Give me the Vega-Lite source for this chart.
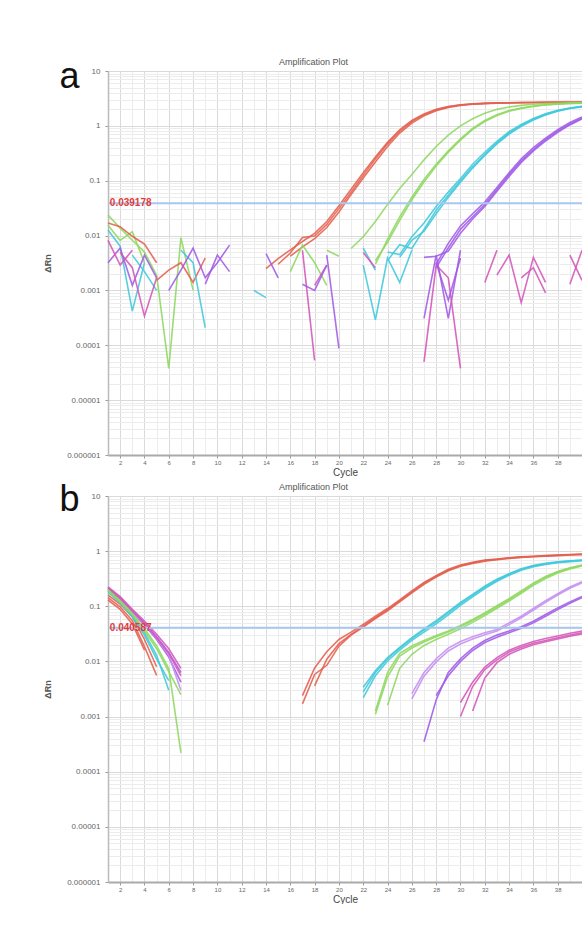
{
"$schema": "https://vega.github.io/schema/vega-lite/v6.json",
"background": "white",
"padding": {"left": 43, "top": 57, "right": 0, "bottom": 0},
"spacing": 4,
"config": {
  "font": "Liberation Sans",
  "view": {"stroke": null},
  "axis": {"labelFont": "Liberation Sans", "titleFont": "Liberation Sans"}
},
"datasets": {
"a": [
{"s":"aR1","g":"red","c":14,"v":0.0025},{"s":"aR1","g":"red","c":15,"v":0.0038},{"s":"aR1","g":"red","c":16,"v":0.0055},{"s":"aR1","g":"red","c":17,"v":0.0078},{"s":"aR1","g":"red","c":18,"v":0.011},{"s":"aR1","g":"red","c":19,"v":0.018},{"s":"aR1","g":"red","c":20,"v":0.035},{"s":"aR1","g":"red","c":21,"v":0.07},{"s":"aR1","g":"red","c":22,"v":0.14},{"s":"aR1","g":"red","c":23,"v":0.27},{"s":"aR1","g":"red","c":24,"v":0.5},{"s":"aR1","g":"red","c":25,"v":0.85},{"s":"aR1","g":"red","c":26,"v":1.25},{"s":"aR1","g":"red","c":27,"v":1.65},{"s":"aR1","g":"red","c":28,"v":2.0},{"s":"aR1","g":"red","c":29,"v":2.25},{"s":"aR1","g":"red","c":30,"v":2.42},{"s":"aR1","g":"red","c":31,"v":2.52},{"s":"aR1","g":"red","c":32,"v":2.58},{"s":"aR1","g":"red","c":33,"v":2.62},{"s":"aR1","g":"red","c":34,"v":2.64},{"s":"aR1","g":"red","c":35,"v":2.66},{"s":"aR1","g":"red","c":36,"v":2.67},{"s":"aR1","g":"red","c":37,"v":2.68},{"s":"aR1","g":"red","c":38,"v":2.69},{"s":"aR1","g":"red","c":39,"v":2.7},{"s":"aR1","g":"red","c":40,"v":2.7},
{"s":"aR2","g":"red","c":15,"v":0.003},{"s":"aR2","g":"red","c":16,"v":0.0048},{"s":"aR2","g":"red","c":17,"v":0.0092},{"s":"aR2","g":"red","c":18,"v":0.0098},{"s":"aR2","g":"red","c":19,"v":0.016},{"s":"aR2","g":"red","c":20,"v":0.031},{"s":"aR2","g":"red","c":21,"v":0.062},{"s":"aR2","g":"red","c":22,"v":0.125},{"s":"aR2","g":"red","c":23,"v":0.25},{"s":"aR2","g":"red","c":24,"v":0.47},{"s":"aR2","g":"red","c":25,"v":0.8},{"s":"aR2","g":"red","c":26,"v":1.2},{"s":"aR2","g":"red","c":27,"v":1.6},{"s":"aR2","g":"red","c":28,"v":1.95},{"s":"aR2","g":"red","c":29,"v":2.22},{"s":"aR2","g":"red","c":30,"v":2.4},{"s":"aR2","g":"red","c":31,"v":2.5},{"s":"aR2","g":"red","c":32,"v":2.57},{"s":"aR2","g":"red","c":33,"v":2.61},{"s":"aR2","g":"red","c":34,"v":2.64},{"s":"aR2","g":"red","c":35,"v":2.66},{"s":"aR2","g":"red","c":36,"v":2.67},{"s":"aR2","g":"red","c":37,"v":2.68},{"s":"aR2","g":"red","c":38,"v":2.69},{"s":"aR2","g":"red","c":39,"v":2.7},{"s":"aR2","g":"red","c":40,"v":2.71},
{"s":"aR3","g":"red","c":16,"v":0.0042},{"s":"aR3","g":"red","c":17,"v":0.0062},{"s":"aR3","g":"red","c":18,"v":0.0088},{"s":"aR3","g":"red","c":19,"v":0.014},{"s":"aR3","g":"red","c":20,"v":0.027},{"s":"aR3","g":"red","c":21,"v":0.056},{"s":"aR3","g":"red","c":22,"v":0.112},{"s":"aR3","g":"red","c":23,"v":0.22},{"s":"aR3","g":"red","c":24,"v":0.42},{"s":"aR3","g":"red","c":25,"v":0.74},{"s":"aR3","g":"red","c":26,"v":1.12},{"s":"aR3","g":"red","c":27,"v":1.52},{"s":"aR3","g":"red","c":28,"v":1.88},{"s":"aR3","g":"red","c":29,"v":2.16},{"s":"aR3","g":"red","c":30,"v":2.35},{"s":"aR3","g":"red","c":31,"v":2.47},{"s":"aR3","g":"red","c":32,"v":2.54},{"s":"aR3","g":"red","c":33,"v":2.59},{"s":"aR3","g":"red","c":34,"v":2.62},{"s":"aR3","g":"red","c":35,"v":2.64},{"s":"aR3","g":"red","c":36,"v":2.66},{"s":"aR3","g":"red","c":37,"v":2.67},{"s":"aR3","g":"red","c":38,"v":2.68},{"s":"aR3","g":"red","c":39,"v":2.69},{"s":"aR3","g":"red","c":40,"v":2.7},
{"s":"aG1","g":"green","c":21,"v":0.0058},{"s":"aG1","g":"green","c":22,"v":0.0095},{"s":"aG1","g":"green","c":23,"v":0.018},{"s":"aG1","g":"green","c":24,"v":0.037},{"s":"aG1","g":"green","c":25,"v":0.072},{"s":"aG1","g":"green","c":26,"v":0.13},{"s":"aG1","g":"green","c":27,"v":0.24},{"s":"aG1","g":"green","c":28,"v":0.42},{"s":"aG1","g":"green","c":29,"v":0.68},{"s":"aG1","g":"green","c":30,"v":1.0},{"s":"aG1","g":"green","c":31,"v":1.35},{"s":"aG1","g":"green","c":32,"v":1.7},{"s":"aG1","g":"green","c":33,"v":2.0},{"s":"aG1","g":"green","c":34,"v":2.2},{"s":"aG1","g":"green","c":35,"v":2.36},{"s":"aG1","g":"green","c":36,"v":2.47},{"s":"aG1","g":"green","c":37,"v":2.54},{"s":"aG1","g":"green","c":38,"v":2.59},{"s":"aG1","g":"green","c":39,"v":2.62},{"s":"aG1","g":"green","c":40,"v":2.65},
{"s":"aG2","g":"green","c":23,"v":0.003},{"s":"aG2","g":"green","c":24,"v":0.0085},{"s":"aG2","g":"green","c":25,"v":0.022},{"s":"aG2","g":"green","c":26,"v":0.05},{"s":"aG2","g":"green","c":27,"v":0.105},{"s":"aG2","g":"green","c":28,"v":0.2},{"s":"aG2","g":"green","c":29,"v":0.35},{"s":"aG2","g":"green","c":30,"v":0.58},{"s":"aG2","g":"green","c":31,"v":0.9},{"s":"aG2","g":"green","c":32,"v":1.25},{"s":"aG2","g":"green","c":33,"v":1.6},{"s":"aG2","g":"green","c":34,"v":1.9},{"s":"aG2","g":"green","c":35,"v":2.12},{"s":"aG2","g":"green","c":36,"v":2.3},{"s":"aG2","g":"green","c":37,"v":2.42},{"s":"aG2","g":"green","c":38,"v":2.5},{"s":"aG2","g":"green","c":39,"v":2.56},{"s":"aG2","g":"green","c":40,"v":2.6},
{"s":"aG3","g":"green","c":23,"v":0.0035},{"s":"aG3","g":"green","c":24,"v":0.0075},{"s":"aG3","g":"green","c":25,"v":0.019},{"s":"aG3","g":"green","c":26,"v":0.045},{"s":"aG3","g":"green","c":27,"v":0.095},{"s":"aG3","g":"green","c":28,"v":0.185},{"s":"aG3","g":"green","c":29,"v":0.33},{"s":"aG3","g":"green","c":30,"v":0.55},{"s":"aG3","g":"green","c":31,"v":0.86},{"s":"aG3","g":"green","c":32,"v":1.2},{"s":"aG3","g":"green","c":33,"v":1.55},{"s":"aG3","g":"green","c":34,"v":1.85},{"s":"aG3","g":"green","c":35,"v":2.08},{"s":"aG3","g":"green","c":36,"v":2.26},{"s":"aG3","g":"green","c":37,"v":2.4},{"s":"aG3","g":"green","c":38,"v":2.48},{"s":"aG3","g":"green","c":39,"v":2.55},{"s":"aG3","g":"green","c":40,"v":2.6},
{"s":"aC1","g":"cyan","c":24,"v":0.005},{"s":"aC1","g":"cyan","c":25,"v":0.0045},{"s":"aC1","g":"cyan","c":26,"v":0.0095},{"s":"aC1","g":"cyan","c":27,"v":0.017},{"s":"aC1","g":"cyan","c":28,"v":0.034},{"s":"aC1","g":"cyan","c":29,"v":0.062},{"s":"aC1","g":"cyan","c":30,"v":0.11},{"s":"aC1","g":"cyan","c":31,"v":0.2},{"s":"aC1","g":"cyan","c":32,"v":0.33},{"s":"aC1","g":"cyan","c":33,"v":0.52},{"s":"aC1","g":"cyan","c":34,"v":0.78},{"s":"aC1","g":"cyan","c":35,"v":1.06},{"s":"aC1","g":"cyan","c":36,"v":1.36},{"s":"aC1","g":"cyan","c":37,"v":1.66},{"s":"aC1","g":"cyan","c":38,"v":1.92},{"s":"aC1","g":"cyan","c":39,"v":2.12},{"s":"aC1","g":"cyan","c":40,"v":2.28},
{"s":"aC2","g":"cyan","c":24,"v":0.0035},{"s":"aC2","g":"cyan","c":25,"v":0.0068},{"s":"aC2","g":"cyan","c":26,"v":0.0058},{"s":"aC2","g":"cyan","c":27,"v":0.013},{"s":"aC2","g":"cyan","c":28,"v":0.029},{"s":"aC2","g":"cyan","c":29,"v":0.055},{"s":"aC2","g":"cyan","c":30,"v":0.1},{"s":"aC2","g":"cyan","c":31,"v":0.18},{"s":"aC2","g":"cyan","c":32,"v":0.3},{"s":"aC2","g":"cyan","c":33,"v":0.49},{"s":"aC2","g":"cyan","c":34,"v":0.74},{"s":"aC2","g":"cyan","c":35,"v":1.02},{"s":"aC2","g":"cyan","c":36,"v":1.32},{"s":"aC2","g":"cyan","c":37,"v":1.62},{"s":"aC2","g":"cyan","c":38,"v":1.88},{"s":"aC2","g":"cyan","c":39,"v":2.1},{"s":"aC2","g":"cyan","c":40,"v":2.25},
{"s":"aC3","g":"cyan","c":25,"v":0.004},{"s":"aC3","g":"cyan","c":26,"v":0.0082},{"s":"aC3","g":"cyan","c":27,"v":0.012},{"s":"aC3","g":"cyan","c":28,"v":0.025},{"s":"aC3","g":"cyan","c":29,"v":0.05},{"s":"aC3","g":"cyan","c":30,"v":0.094},{"s":"aC3","g":"cyan","c":31,"v":0.17},{"s":"aC3","g":"cyan","c":32,"v":0.29},{"s":"aC3","g":"cyan","c":33,"v":0.47},{"s":"aC3","g":"cyan","c":34,"v":0.71},{"s":"aC3","g":"cyan","c":35,"v":0.98},{"s":"aC3","g":"cyan","c":36,"v":1.28},{"s":"aC3","g":"cyan","c":37,"v":1.58},{"s":"aC3","g":"cyan","c":38,"v":1.85},{"s":"aC3","g":"cyan","c":39,"v":2.07},{"s":"aC3","g":"cyan","c":40,"v":2.22},
{"s":"aP1","g":"purple","c":28,"v":0.003},{"s":"aP1","g":"purple","c":29,"v":0.0072},{"s":"aP1","g":"purple","c":30,"v":0.015},{"s":"aP1","g":"purple","c":31,"v":0.025},{"s":"aP1","g":"purple","c":32,"v":0.041},{"s":"aP1","g":"purple","c":33,"v":0.075},{"s":"aP1","g":"purple","c":34,"v":0.14},{"s":"aP1","g":"purple","c":35,"v":0.25},{"s":"aP1","g":"purple","c":36,"v":0.4},{"s":"aP1","g":"purple","c":37,"v":0.6},{"s":"aP1","g":"purple","c":38,"v":0.85},{"s":"aP1","g":"purple","c":39,"v":1.15},{"s":"aP1","g":"purple","c":40,"v":1.45},
{"s":"aP2","g":"purple","c":28,"v":0.0026},{"s":"aP2","g":"purple","c":29,"v":0.006},{"s":"aP2","g":"purple","c":30,"v":0.013},{"s":"aP2","g":"purple","c":31,"v":0.022},{"s":"aP2","g":"purple","c":32,"v":0.037},{"s":"aP2","g":"purple","c":33,"v":0.069},{"s":"aP2","g":"purple","c":34,"v":0.13},{"s":"aP2","g":"purple","c":35,"v":0.23},{"s":"aP2","g":"purple","c":36,"v":0.37},{"s":"aP2","g":"purple","c":37,"v":0.56},{"s":"aP2","g":"purple","c":38,"v":0.8},{"s":"aP2","g":"purple","c":39,"v":1.08},{"s":"aP2","g":"purple","c":40,"v":1.38},
{"s":"aP3","g":"purple","c":27,"v":0.004},{"s":"aP3","g":"purple","c":28,"v":0.0042},{"s":"aP3","g":"purple","c":29,"v":0.0052},{"s":"aP3","g":"purple","c":30,"v":0.011},{"s":"aP3","g":"purple","c":31,"v":0.02},{"s":"aP3","g":"purple","c":32,"v":0.034},{"s":"aP3","g":"purple","c":33,"v":0.064},{"s":"aP3","g":"purple","c":34,"v":0.12},{"s":"aP3","g":"purple","c":35,"v":0.215},{"s":"aP3","g":"purple","c":36,"v":0.35},{"s":"aP3","g":"purple","c":37,"v":0.53},{"s":"aP3","g":"purple","c":38,"v":0.76},{"s":"aP3","g":"purple","c":39,"v":1.04},{"s":"aP3","g":"purple","c":40,"v":1.34},
{"s":"aN1","g":"green","c":1,"v":0.0236},{"s":"aN1","g":"green","c":2,"v":0.0137},{"s":"aN1","g":"green","c":3,"v":0.0082},{"s":"aN1","g":"green","c":4,"v":0.005},{"s":"aN1","g":"green","c":5,"v":0.0019},{"s":"aN1","g":"green","c":6,"v":0.000038},{"s":"aN1","g":"green","c":7,"v":0.0092},{"s":"aN1","g":"green","c":8,"v":0.00101},
{"s":"aN2","g":"green","c":1,"v":0.0155},{"s":"aN2","g":"green","c":2,"v":0.0082},{"s":"aN2","g":"green","c":3,"v":0.0118},{"s":"aN2","g":"green","c":4,"v":0.0032},
{"s":"aN3","g":"red","c":1,"v":0.017},{"s":"aN3","g":"red","c":2,"v":0.0145},{"s":"aN3","g":"red","c":3,"v":0.0097},{"s":"aN3","g":"red","c":4,"v":0.007},{"s":"aN3","g":"red","c":5,"v":0.0032},
{"s":"aN4","g":"red","c":5,"v":0.00153},{"s":"aN4","g":"red","c":6,"v":0.00234},{"s":"aN4","g":"red","c":7,"v":0.0032},{"s":"aN4","g":"red","c":8,"v":0.0014},{"s":"aN4","g":"red","c":9,"v":0.0039},
{"s":"aN6","g":"cyan","c":1,"v":0.0126},{"s":"aN6","g":"cyan","c":2,"v":0.0064},{"s":"aN6","g":"cyan","c":3,"v":0.00042},{"s":"aN6","g":"cyan","c":4,"v":0.0032},
{"s":"aN7","g":"cyan","c":3,"v":0.0044},{"s":"aN7","g":"cyan","c":4,"v":0.0022},{"s":"aN7","g":"cyan","c":5,"v":0.001},
{"s":"aN8","g":"cyan","c":7,"v":0.0054},{"s":"aN8","g":"cyan","c":8,"v":0.0032},{"s":"aN8","g":"cyan","c":9,"v":0.00021},
{"s":"aN9","g":"purple","c":1,"v":0.0032},{"s":"aN9","g":"purple","c":2,"v":0.0059},{"s":"aN9","g":"purple","c":3,"v":0.00124},{"s":"aN9","g":"purple","c":4,"v":0.0044},{"s":"aN9","g":"purple","c":5,"v":0.0017},
{"s":"aN10","g":"purple","c":6,"v":0.001},{"s":"aN10","g":"purple","c":7,"v":0.00234},{"s":"aN10","g":"purple","c":8,"v":0.0059},{"s":"aN10","g":"purple","c":9,"v":0.0017},{"s":"aN10","g":"purple","c":10,"v":0.0032},{"s":"aN10","g":"purple","c":11,"v":0.0067},
{"s":"aN11","g":"magenta","c":2,"v":0.0049},{"s":"aN11","g":"magenta","c":3,"v":0.0026},{"s":"aN11","g":"magenta","c":4,"v":0.00034},{"s":"aN11","g":"magenta","c":5,"v":0.0017},
{"s":"aN12","g":"magenta","c":1,"v":0.0082},{"s":"aN12","g":"magenta","c":2,"v":0.0029},{"s":"aN12","g":"magenta","c":3,"v":0.0054},
{"s":"aN13","g":"purple","c":9,"v":0.0013},{"s":"aN13","g":"purple","c":10,"v":0.0044},{"s":"aN13","g":"purple","c":11,"v":0.0022},
{"s":"aN15","g":"cyan","c":13,"v":0.001},{"s":"aN15","g":"cyan","c":14,"v":0.00074},
{"s":"aN16","g":"purple","c":14,"v":0.0047},{"s":"aN16","g":"purple","c":15,"v":0.0017},
{"s":"aN18","g":"green","c":16,"v":0.0022},{"s":"aN18","g":"green","c":17,"v":0.0067},{"s":"aN18","g":"green","c":18,"v":0.0032},{"s":"aN18","g":"green","c":19,"v":0.00124},
{"s":"aN19","g":"magenta","c":17,"v":0.0054},{"s":"aN19","g":"magenta","c":18,"v":0.000053},
{"s":"aN19b","g":"magenta","c":18,"v":0.00124},{"s":"aN19b","g":"magenta","c":19,"v":0.0029},
{"s":"aN20","g":"purple","c":17,"v":0.0013},{"s":"aN20","g":"purple","c":18,"v":0.001},{"s":"aN20","g":"purple","c":19,"v":0.0029},
{"s":"aN21","g":"purple","c":19,"v":0.0044},{"s":"aN21","g":"purple","c":20,"v":0.000088},
{"s":"aN22","g":"green","c":19,"v":0.0054},{"s":"aN22","g":"green","c":20,"v":0.0042},
{"s":"aN24","g":"cyan","c":22,"v":0.0029},{"s":"aN24","g":"cyan","c":23,"v":0.00029},{"s":"aN24","g":"cyan","c":24,"v":0.0039},{"s":"aN24","g":"cyan","c":25,"v":0.0014},{"s":"aN24","g":"cyan","c":26,"v":0.0054},
{"s":"aN25","g":"cyan","c":22,"v":0.0059},{"s":"aN25","g":"cyan","c":23,"v":0.00234},
{"s":"aN26","g":"magenta","c":22,"v":0.0049},{"s":"aN26","g":"magenta","c":23,"v":0.0026},
{"s":"aN28","g":"purple","c":27,"v":0.00031},{"s":"aN28","g":"purple","c":28,"v":0.0044},{"s":"aN28","g":"purple","c":29,"v":0.00031},{"s":"aN28","g":"purple","c":30,"v":0.0054},
{"s":"aN29","g":"magenta","c":27,"v":0.00005},{"s":"aN29","g":"magenta","c":28,"v":0.0029},{"s":"aN29","g":"magenta","c":29,"v":0.0017},{"s":"aN29","g":"magenta","c":30,"v":0.000038},
{"s":"aN30","g":"purple","c":28,"v":0.0032},{"s":"aN30","g":"purple","c":29,"v":0.00066},{"s":"aN30","g":"purple","c":30,"v":0.0039},
{"s":"aN31","g":"magenta","c":32,"v":0.0014},{"s":"aN31","g":"magenta","c":33,"v":0.0054},
{"s":"aN32","g":"magenta","c":33,"v":0.0019},{"s":"aN32","g":"magenta","c":34,"v":0.0044},{"s":"aN32","g":"magenta","c":35,"v":0.0006},{"s":"aN32","g":"magenta","c":36,"v":0.004},{"s":"aN32","g":"magenta","c":37,"v":0.0014},
{"s":"aN33","g":"magenta","c":35,"v":0.0017},{"s":"aN33","g":"magenta","c":36,"v":0.0026},{"s":"aN33","g":"magenta","c":37,"v":0.0009},
{"s":"aN34","g":"magenta","c":39,"v":0.0013},{"s":"aN34","g":"magenta","c":40,"v":0.0054},
{"s":"aN35","g":"magenta","c":39,"v":0.0044},{"s":"aN35","g":"magenta","c":40,"v":0.00153}
],
"b": [
{"s":"bR0a","g":"red","c":1,"v":0.143},{"s":"bR0a","g":"red","c":2,"v":0.098},{"s":"bR0a","g":"red","c":3,"v":0.055},{"s":"bR0a","g":"red","c":4,"v":0.0185},{"s":"bR0a","g":"red","c":5,"v":0.0056},
{"s":"bR0b","g":"red","c":1,"v":0.16},{"s":"bR0b","g":"red","c":2,"v":0.11},{"s":"bR0b","g":"red","c":3,"v":0.065},{"s":"bR0b","g":"red","c":4,"v":0.025},{"s":"bR0b","g":"red","c":5,"v":0.008},
{"s":"bR0c","g":"red","c":1,"v":0.13},{"s":"bR0c","g":"red","c":2,"v":0.088},{"s":"bR0c","g":"red","c":3,"v":0.048},{"s":"bR0c","g":"red","c":4,"v":0.016},
{"s":"bP0a","g":"purple","c":1,"v":0.217},{"s":"bP0a","g":"purple","c":2,"v":0.143},{"s":"bP0a","g":"purple","c":3,"v":0.083},{"s":"bP0a","g":"purple","c":4,"v":0.05},{"s":"bP0a","g":"purple","c":5,"v":0.028},{"s":"bP0a","g":"purple","c":6,"v":0.0146},{"s":"bP0a","g":"purple","c":7,"v":0.0063},
{"s":"bP0b","g":"purple","c":1,"v":0.2},{"s":"bP0b","g":"purple","c":2,"v":0.135},{"s":"bP0b","g":"purple","c":3,"v":0.078},{"s":"bP0b","g":"purple","c":4,"v":0.046},{"s":"bP0b","g":"purple","c":5,"v":0.025},{"s":"bP0b","g":"purple","c":6,"v":0.012},{"s":"bP0b","g":"purple","c":7,"v":0.0042},
{"s":"bV0a","g":"violet","c":1,"v":0.205},{"s":"bV0a","g":"violet","c":2,"v":0.138},{"s":"bV0a","g":"violet","c":3,"v":0.08},{"s":"bV0a","g":"violet","c":4,"v":0.047},{"s":"bV0a","g":"violet","c":5,"v":0.026},{"s":"bV0a","g":"violet","c":6,"v":0.013},{"s":"bV0a","g":"violet","c":7,"v":0.003},
{"s":"bM0a","g":"magenta","c":1,"v":0.225},{"s":"bM0a","g":"magenta","c":2,"v":0.15},{"s":"bM0a","g":"magenta","c":3,"v":0.088},{"s":"bM0a","g":"magenta","c":4,"v":0.054},{"s":"bM0a","g":"magenta","c":5,"v":0.031},{"s":"bM0a","g":"magenta","c":6,"v":0.017},{"s":"bM0a","g":"magenta","c":7,"v":0.0075},
{"s":"bM0b","g":"magenta","c":1,"v":0.21},{"s":"bM0b","g":"magenta","c":2,"v":0.14},{"s":"bM0b","g":"magenta","c":3,"v":0.082},{"s":"bM0b","g":"magenta","c":4,"v":0.049},{"s":"bM0b","g":"magenta","c":5,"v":0.027},{"s":"bM0b","g":"magenta","c":6,"v":0.014},{"s":"bM0b","g":"magenta","c":7,"v":0.0055},
{"s":"bC0a","g":"cyan","c":1,"v":0.19},{"s":"bC0a","g":"cyan","c":2,"v":0.121},{"s":"bC0a","g":"cyan","c":3,"v":0.068},{"s":"bC0a","g":"cyan","c":4,"v":0.033},{"s":"bC0a","g":"cyan","c":5,"v":0.0129},{"s":"bC0a","g":"cyan","c":6,"v":0.003},
{"s":"bC0b","g":"cyan","c":1,"v":0.18},{"s":"bC0b","g":"cyan","c":2,"v":0.115},{"s":"bC0b","g":"cyan","c":3,"v":0.064},{"s":"bC0b","g":"cyan","c":4,"v":0.03},{"s":"bC0b","g":"cyan","c":5,"v":0.011},{"s":"bC0b","g":"cyan","c":6,"v":0.0045},
{"s":"bG0a","g":"green","c":1,"v":0.2},{"s":"bG0a","g":"green","c":2,"v":0.126},{"s":"bG0a","g":"green","c":3,"v":0.074},{"s":"bG0a","g":"green","c":4,"v":0.039},{"s":"bG0a","g":"green","c":5,"v":0.0193},{"s":"bG0a","g":"green","c":6,"v":0.0074},{"s":"bG0a","g":"green","c":7,"v":0.00022},
{"s":"bG0b","g":"green","c":1,"v":0.19},{"s":"bG0b","g":"green","c":2,"v":0.12},{"s":"bG0b","g":"green","c":3,"v":0.07},{"s":"bG0b","g":"green","c":4,"v":0.036},{"s":"bG0b","g":"green","c":5,"v":0.017},{"s":"bG0b","g":"green","c":6,"v":0.0065},{"s":"bG0b","g":"green","c":7,"v":0.0025},
{"s":"bR1","g":"red","c":17,"v":0.0024},{"s":"bR1","g":"red","c":18,"v":0.0076},{"s":"bR1","g":"red","c":19,"v":0.015},{"s":"bR1","g":"red","c":20,"v":0.025},{"s":"bR1","g":"red","c":21,"v":0.034},{"s":"bR1","g":"red","c":22,"v":0.047},{"s":"bR1","g":"red","c":23,"v":0.066},{"s":"bR1","g":"red","c":24,"v":0.091},{"s":"bR1","g":"red","c":25,"v":0.13},{"s":"bR1","g":"red","c":26,"v":0.19},{"s":"bR1","g":"red","c":27,"v":0.27},{"s":"bR1","g":"red","c":28,"v":0.36},{"s":"bR1","g":"red","c":29,"v":0.47},{"s":"bR1","g":"red","c":30,"v":0.56},{"s":"bR1","g":"red","c":31,"v":0.63},{"s":"bR1","g":"red","c":32,"v":0.69},{"s":"bR1","g":"red","c":33,"v":0.72},{"s":"bR1","g":"red","c":34,"v":0.76},{"s":"bR1","g":"red","c":35,"v":0.79},{"s":"bR1","g":"red","c":36,"v":0.81},{"s":"bR1","g":"red","c":37,"v":0.83},{"s":"bR1","g":"red","c":38,"v":0.85},{"s":"bR1","g":"red","c":39,"v":0.87},{"s":"bR1","g":"red","c":40,"v":0.89},
{"s":"bR2","g":"red","c":17,"v":0.0017},{"s":"bR2","g":"red","c":18,"v":0.0058},{"s":"bR2","g":"red","c":19,"v":0.0085},{"s":"bR2","g":"red","c":20,"v":0.019},{"s":"bR2","g":"red","c":21,"v":0.03},{"s":"bR2","g":"red","c":22,"v":0.042},{"s":"bR2","g":"red","c":23,"v":0.06},{"s":"bR2","g":"red","c":24,"v":0.083},{"s":"bR2","g":"red","c":25,"v":0.12},{"s":"bR2","g":"red","c":26,"v":0.175},{"s":"bR2","g":"red","c":27,"v":0.25},{"s":"bR2","g":"red","c":28,"v":0.34},{"s":"bR2","g":"red","c":29,"v":0.44},{"s":"bR2","g":"red","c":30,"v":0.53},{"s":"bR2","g":"red","c":31,"v":0.6},{"s":"bR2","g":"red","c":32,"v":0.66},{"s":"bR2","g":"red","c":33,"v":0.7},{"s":"bR2","g":"red","c":34,"v":0.74},{"s":"bR2","g":"red","c":35,"v":0.77},{"s":"bR2","g":"red","c":36,"v":0.79},{"s":"bR2","g":"red","c":37,"v":0.81},{"s":"bR2","g":"red","c":38,"v":0.83},{"s":"bR2","g":"red","c":39,"v":0.85},{"s":"bR2","g":"red","c":40,"v":0.86},
{"s":"bR3","g":"red","c":18,"v":0.0036},{"s":"bR3","g":"red","c":19,"v":0.011},{"s":"bR3","g":"red","c":20,"v":0.021},{"s":"bR3","g":"red","c":21,"v":0.031},{"s":"bR3","g":"red","c":22,"v":0.044},{"s":"bR3","g":"red","c":23,"v":0.062},{"s":"bR3","g":"red","c":24,"v":0.087},{"s":"bR3","g":"red","c":25,"v":0.125},{"s":"bR3","g":"red","c":26,"v":0.18},{"s":"bR3","g":"red","c":27,"v":0.26},{"s":"bR3","g":"red","c":28,"v":0.35},{"s":"bR3","g":"red","c":29,"v":0.45},{"s":"bR3","g":"red","c":30,"v":0.545},{"s":"bR3","g":"red","c":31,"v":0.615},{"s":"bR3","g":"red","c":32,"v":0.675},{"s":"bR3","g":"red","c":33,"v":0.71},{"s":"bR3","g":"red","c":34,"v":0.75},{"s":"bR3","g":"red","c":35,"v":0.78},{"s":"bR3","g":"red","c":36,"v":0.8},{"s":"bR3","g":"red","c":37,"v":0.82},{"s":"bR3","g":"red","c":38,"v":0.84},{"s":"bR3","g":"red","c":39,"v":0.86},{"s":"bR3","g":"red","c":40,"v":0.88},
{"s":"bC1","g":"cyan","c":22,"v":0.0028},{"s":"bC1","g":"cyan","c":23,"v":0.0063},{"s":"bC1","g":"cyan","c":24,"v":0.0112},{"s":"bC1","g":"cyan","c":25,"v":0.0174},{"s":"bC1","g":"cyan","c":26,"v":0.026},{"s":"bC1","g":"cyan","c":27,"v":0.037},{"s":"bC1","g":"cyan","c":28,"v":0.052},{"s":"bC1","g":"cyan","c":29,"v":0.076},{"s":"bC1","g":"cyan","c":30,"v":0.112},{"s":"bC1","g":"cyan","c":31,"v":0.158},{"s":"bC1","g":"cyan","c":32,"v":0.224},{"s":"bC1","g":"cyan","c":33,"v":0.3},{"s":"bC1","g":"cyan","c":34,"v":0.38},{"s":"bC1","g":"cyan","c":35,"v":0.47},{"s":"bC1","g":"cyan","c":36,"v":0.54},{"s":"bC1","g":"cyan","c":37,"v":0.59},{"s":"bC1","g":"cyan","c":38,"v":0.63},{"s":"bC1","g":"cyan","c":39,"v":0.66},{"s":"bC1","g":"cyan","c":40,"v":0.68},
{"s":"bC2","g":"cyan","c":22,"v":0.0022},{"s":"bC2","g":"cyan","c":23,"v":0.0055},{"s":"bC2","g":"cyan","c":24,"v":0.0102},{"s":"bC2","g":"cyan","c":25,"v":0.016},{"s":"bC2","g":"cyan","c":26,"v":0.024},{"s":"bC2","g":"cyan","c":27,"v":0.034},{"s":"bC2","g":"cyan","c":28,"v":0.048},{"s":"bC2","g":"cyan","c":29,"v":0.07},{"s":"bC2","g":"cyan","c":30,"v":0.104},{"s":"bC2","g":"cyan","c":31,"v":0.148},{"s":"bC2","g":"cyan","c":32,"v":0.21},{"s":"bC2","g":"cyan","c":33,"v":0.285},{"s":"bC2","g":"cyan","c":34,"v":0.365},{"s":"bC2","g":"cyan","c":35,"v":0.45},{"s":"bC2","g":"cyan","c":36,"v":0.52},{"s":"bC2","g":"cyan","c":37,"v":0.575},{"s":"bC2","g":"cyan","c":38,"v":0.615},{"s":"bC2","g":"cyan","c":39,"v":0.645},{"s":"bC2","g":"cyan","c":40,"v":0.67},
{"s":"bC3","g":"cyan","c":22,"v":0.0034},{"s":"bC3","g":"cyan","c":23,"v":0.0068},{"s":"bC3","g":"cyan","c":24,"v":0.0118},{"s":"bC3","g":"cyan","c":25,"v":0.018},{"s":"bC3","g":"cyan","c":26,"v":0.027},{"s":"bC3","g":"cyan","c":27,"v":0.039},{"s":"bC3","g":"cyan","c":28,"v":0.055},{"s":"bC3","g":"cyan","c":29,"v":0.08},{"s":"bC3","g":"cyan","c":30,"v":0.117},{"s":"bC3","g":"cyan","c":31,"v":0.165},{"s":"bC3","g":"cyan","c":32,"v":0.232},{"s":"bC3","g":"cyan","c":33,"v":0.31},{"s":"bC3","g":"cyan","c":34,"v":0.39},{"s":"bC3","g":"cyan","c":35,"v":0.48},{"s":"bC3","g":"cyan","c":36,"v":0.55},{"s":"bC3","g":"cyan","c":37,"v":0.6},{"s":"bC3","g":"cyan","c":38,"v":0.64},{"s":"bC3","g":"cyan","c":39,"v":0.67},{"s":"bC3","g":"cyan","c":40,"v":0.69},
{"s":"bG1","g":"green","c":23,"v":0.00126},{"s":"bG1","g":"green","c":24,"v":0.0063},{"s":"bG1","g":"green","c":25,"v":0.014},{"s":"bG1","g":"green","c":26,"v":0.019},{"s":"bG1","g":"green","c":27,"v":0.024},{"s":"bG1","g":"green","c":28,"v":0.0295},{"s":"bG1","g":"green","c":29,"v":0.0355},{"s":"bG1","g":"green","c":30,"v":0.0447},{"s":"bG1","g":"green","c":31,"v":0.0575},{"s":"bG1","g":"green","c":32,"v":0.076},{"s":"bG1","g":"green","c":33,"v":0.102},{"s":"bG1","g":"green","c":34,"v":0.138},{"s":"bG1","g":"green","c":35,"v":0.19},{"s":"bG1","g":"green","c":36,"v":0.263},{"s":"bG1","g":"green","c":37,"v":0.347},{"s":"bG1","g":"green","c":38,"v":0.427},{"s":"bG1","g":"green","c":39,"v":0.5},{"s":"bG1","g":"green","c":40,"v":0.56},
{"s":"bG2","g":"green","c":24,"v":0.0016},{"s":"bG2","g":"green","c":25,"v":0.0075},{"s":"bG2","g":"green","c":26,"v":0.0135},{"s":"bG2","g":"green","c":27,"v":0.0195},{"s":"bG2","g":"green","c":28,"v":0.025},{"s":"bG2","g":"green","c":29,"v":0.031},{"s":"bG2","g":"green","c":30,"v":0.039},{"s":"bG2","g":"green","c":31,"v":0.051},{"s":"bG2","g":"green","c":32,"v":0.068},{"s":"bG2","g":"green","c":33,"v":0.092},{"s":"bG2","g":"green","c":34,"v":0.125},{"s":"bG2","g":"green","c":35,"v":0.172},{"s":"bG2","g":"green","c":36,"v":0.24},{"s":"bG2","g":"green","c":37,"v":0.32},{"s":"bG2","g":"green","c":38,"v":0.4},{"s":"bG2","g":"green","c":39,"v":0.475},{"s":"bG2","g":"green","c":40,"v":0.54},
{"s":"bG3","g":"green","c":23,"v":0.0011},{"s":"bG3","g":"green","c":24,"v":0.0052},{"s":"bG3","g":"green","c":25,"v":0.0125},{"s":"bG3","g":"green","c":26,"v":0.0175},{"s":"bG3","g":"green","c":27,"v":0.0225},{"s":"bG3","g":"green","c":28,"v":0.028},{"s":"bG3","g":"green","c":29,"v":0.034},{"s":"bG3","g":"green","c":30,"v":0.0425},{"s":"bG3","g":"green","c":31,"v":0.055},{"s":"bG3","g":"green","c":32,"v":0.073},{"s":"bG3","g":"green","c":33,"v":0.098},{"s":"bG3","g":"green","c":34,"v":0.133},{"s":"bG3","g":"green","c":35,"v":0.183},{"s":"bG3","g":"green","c":36,"v":0.255},{"s":"bG3","g":"green","c":37,"v":0.338},{"s":"bG3","g":"green","c":38,"v":0.418},{"s":"bG3","g":"green","c":39,"v":0.49},{"s":"bG3","g":"green","c":40,"v":0.55},
{"s":"bV1","g":"violet","c":26,"v":0.0026},{"s":"bV1","g":"violet","c":27,"v":0.0063},{"s":"bV1","g":"violet","c":28,"v":0.0112},{"s":"bV1","g":"violet","c":29,"v":0.0174},{"s":"bV1","g":"violet","c":30,"v":0.0229},{"s":"bV1","g":"violet","c":31,"v":0.028},{"s":"bV1","g":"violet","c":32,"v":0.033},{"s":"bV1","g":"violet","c":33,"v":0.038},{"s":"bV1","g":"violet","c":34,"v":0.05},{"s":"bV1","g":"violet","c":35,"v":0.066},{"s":"bV1","g":"violet","c":36,"v":0.091},{"s":"bV1","g":"violet","c":37,"v":0.126},{"s":"bV1","g":"violet","c":38,"v":0.17},{"s":"bV1","g":"violet","c":39,"v":0.224},{"s":"bV1","g":"violet","c":40,"v":0.28},
{"s":"bV2","g":"violet","c":26,"v":0.0021},{"s":"bV2","g":"violet","c":27,"v":0.0054},{"s":"bV2","g":"violet","c":28,"v":0.0098},{"s":"bV2","g":"violet","c":29,"v":0.0155},{"s":"bV2","g":"violet","c":30,"v":0.0207},{"s":"bV2","g":"violet","c":31,"v":0.0255},{"s":"bV2","g":"violet","c":32,"v":0.0305},{"s":"bV2","g":"violet","c":33,"v":0.0355},{"s":"bV2","g":"violet","c":34,"v":0.0465},{"s":"bV2","g":"violet","c":35,"v":0.062},{"s":"bV2","g":"violet","c":36,"v":0.085},{"s":"bV2","g":"violet","c":37,"v":0.118},{"s":"bV2","g":"violet","c":38,"v":0.16},{"s":"bV2","g":"violet","c":39,"v":0.212},{"s":"bV2","g":"violet","c":40,"v":0.266},
{"s":"bP1","g":"purple","c":27,"v":0.00035},{"s":"bP1","g":"purple","c":28,"v":0.002},{"s":"bP1","g":"purple","c":29,"v":0.0063},{"s":"bP1","g":"purple","c":30,"v":0.0112},{"s":"bP1","g":"purple","c":31,"v":0.0174},{"s":"bP1","g":"purple","c":32,"v":0.024},{"s":"bP1","g":"purple","c":33,"v":0.03},{"s":"bP1","g":"purple","c":34,"v":0.0355},{"s":"bP1","g":"purple","c":35,"v":0.0427},{"s":"bP1","g":"purple","c":36,"v":0.0537},{"s":"bP1","g":"purple","c":37,"v":0.0708},{"s":"bP1","g":"purple","c":38,"v":0.093},{"s":"bP1","g":"purple","c":39,"v":0.12},{"s":"bP1","g":"purple","c":40,"v":0.151},
{"s":"bP2","g":"purple","c":28,"v":0.0024},{"s":"bP2","g":"purple","c":29,"v":0.0055},{"s":"bP2","g":"purple","c":30,"v":0.01},{"s":"bP2","g":"purple","c":31,"v":0.0158},{"s":"bP2","g":"purple","c":32,"v":0.022},{"s":"bP2","g":"purple","c":33,"v":0.0275},{"s":"bP2","g":"purple","c":34,"v":0.033},{"s":"bP2","g":"purple","c":35,"v":0.04},{"s":"bP2","g":"purple","c":36,"v":0.05},{"s":"bP2","g":"purple","c":37,"v":0.066},{"s":"bP2","g":"purple","c":38,"v":0.087},{"s":"bP2","g":"purple","c":39,"v":0.113},{"s":"bP2","g":"purple","c":40,"v":0.143},
{"s":"bM1","g":"magenta","c":30,"v":0.001},{"s":"bM1","g":"magenta","c":31,"v":0.0035},{"s":"bM1","g":"magenta","c":32,"v":0.0071},{"s":"bM1","g":"magenta","c":33,"v":0.0107},{"s":"bM1","g":"magenta","c":34,"v":0.0148},{"s":"bM1","g":"magenta","c":35,"v":0.018},{"s":"bM1","g":"magenta","c":36,"v":0.0214},{"s":"bM1","g":"magenta","c":37,"v":0.024},{"s":"bM1","g":"magenta","c":38,"v":0.0269},{"s":"bM1","g":"magenta","c":39,"v":0.0302},{"s":"bM1","g":"magenta","c":40,"v":0.033},
{"s":"bM2","g":"magenta","c":30,"v":0.0018},{"s":"bM2","g":"magenta","c":31,"v":0.0042},{"s":"bM2","g":"magenta","c":32,"v":0.0079},{"s":"bM2","g":"magenta","c":33,"v":0.0117},{"s":"bM2","g":"magenta","c":34,"v":0.016},{"s":"bM2","g":"magenta","c":35,"v":0.0195},{"s":"bM2","g":"magenta","c":36,"v":0.023},{"s":"bM2","g":"magenta","c":37,"v":0.026},{"s":"bM2","g":"magenta","c":38,"v":0.029},{"s":"bM2","g":"magenta","c":39,"v":0.0325},{"s":"bM2","g":"magenta","c":40,"v":0.0355},
{"s":"bM3","g":"magenta","c":31,"v":0.00126},{"s":"bM3","g":"magenta","c":32,"v":0.005},{"s":"bM3","g":"magenta","c":33,"v":0.0095},{"s":"bM3","g":"magenta","c":34,"v":0.0135},{"s":"bM3","g":"magenta","c":35,"v":0.0168},{"s":"bM3","g":"magenta","c":36,"v":0.02},{"s":"bM3","g":"magenta","c":37,"v":0.0228},{"s":"bM3","g":"magenta","c":38,"v":0.0255},{"s":"bM3","g":"magenta","c":39,"v":0.0287},{"s":"bM3","g":"magenta","c":40,"v":0.0315}
]
},
"vconcat": [
{
  "width": 474, "height": 384,
  "resolve": {"axis": {"x": "independent", "y": "independent"}},
  "layer": [
    {"data": {"name": "a"}, "mark": {"type": "line", "opacity": 0},
     "encoding": {
       "x": {"field": "c", "type": "quantitative", "scale": {"domain": [1, 40], "nice": false, "zero": false},
             "axis": {"orient": "top", "values": [3,5,7,9,11,13,15,17,19,21,23,25,27,29,31,33,35,37,39], "grid": true, "gridColor": "#ececec", "labels": false, "ticks": false, "domain": false, "title": "Amplification Plot", "titleFontSize": 9, "titleFontWeight": "normal", "titleColor": "#555", "titlePadding": 5, "titleX": 205, "titleAlign": "center"}},
       "y": {"field": "v", "type": "quantitative", "scale": {"type": "log", "domain": [0.000001, 10], "nice": false},
             "axis": {"orient": "right", "values": [2e-6,3e-6,4e-6,5e-6,6e-6,7e-6,8e-6,9e-6,2e-5,3e-5,4e-5,5e-5,6e-5,7e-5,8e-5,9e-5,2e-4,3e-4,4e-4,5e-4,6e-4,7e-4,8e-4,9e-4,0.002,0.003,0.004,0.005,0.006,0.007,0.008,0.009,0.02,0.03,0.04,0.05,0.06,0.07,0.08,0.09,0.2,0.3,0.4,0.5,0.6,0.7,0.8,0.9,2,3,4,5,6,7,8,9], "grid": true, "gridColor": "#ececec", "labels": false, "ticks": false, "domain": false, "title": null}},
       "detail": {"field": "s"}}},
    {"data": {"name": "a"}, "mark": {"type": "line", "strokeWidth": 1.6, "opacity": 0.88},
     "encoding": {
       "x": {"field": "c", "type": "quantitative", "scale": {"domain": [1, 40], "nice": false, "zero": false},
             "axis": {"orient": "bottom", "values": [2,4,6,8,10,12,14,16,18,20,22,24,26,28,30,32,34,36,38], "grid": true, "gridColor": "#dadada", "labelFontSize": 6, "labelColor": "#666", "labelPadding": 1, "tickSize": 3, "tickColor": "#999", "domainColor": "#aaa", "domainWidth": 2, "labelOverlap": false, "title": "Cycle", "titleFontSize": 10, "titleFontWeight": "normal", "titleColor": "#444", "titlePadding": 2}},
       "y": {"field": "v", "type": "quantitative", "scale": {"type": "log", "domain": [0.000001, 10], "nice": false},
             "axis": {"orient": "left", "values": [0.000001,0.00001,0.0001,0.001,0.01,0.1,1,10], "format": ".6~f", "grid": true, "gridColor": "#dadada", "labelFontSize": 8, "labelColor": "#666", "labelPadding": 5, "tickSize": 3, "tickColor": "#999", "domainColor": "#bbb", "domainWidth": 1.5, "title": "ΔRn", "titleFontSize": 9, "titleFontWeight": "bold", "titleColor": "#555", "titlePadding": 14}},
       "color": {"field": "g", "type": "nominal", "scale": {"domain": ["red","green","cyan","purple","violet","magenta"], "range": ["#e4604e","#8ed860","#40c8dc","#a05ae6","#c48ef0","#d455b8"]}, "legend": null},
       "detail": {"field": "s"}}},
    {"data": {"values": [{"t": 0.039}]}, "mark": {"type": "rule", "color": "#a7c7f0", "strokeWidth": 2},
     "encoding": {"y": {"field": "t", "type": "quantitative", "scale": {"type": "log", "domain": [0.000001, 10], "nice": false}, "axis": null}}},
    {"data": {"values": [{"c": 1.15, "t": 0.039, "label": "0.039178"}]}, "mark": {"type": "text", "align": "left", "baseline": "middle", "fontSize": 10, "fontWeight": "bold", "color": "#e23b3b"},
     "encoding": {"x": {"field": "c", "type": "quantitative", "scale": {"domain": [1, 40], "nice": false, "zero": false}, "axis": null},
                  "y": {"field": "t", "type": "quantitative", "scale": {"type": "log", "domain": [0.000001, 10], "nice": false}, "axis": null},
                  "text": {"field": "label"}}},
    {"data": {"values": [{"c": -3, "v": 4.9, "label": "a"}]}, "mark": {"type": "text", "align": "left", "baseline": "alphabetic", "fontSize": 36, "color": "#111"},
     "encoding": {"x": {"field": "c", "type": "quantitative", "scale": {"domain": [1, 40], "nice": false, "zero": false}, "axis": null},
                  "y": {"field": "v", "type": "quantitative", "scale": {"type": "log", "domain": [0.000001, 10], "nice": false}, "axis": null},
                  "text": {"field": "label"}}}
  ]
},
{
  "width": 474, "height": 386,
  "resolve": {"axis": {"x": "independent", "y": "independent"}},
  "layer": [
    {"data": {"name": "b"}, "mark": {"type": "line", "opacity": 0},
     "encoding": {
       "x": {"field": "c", "type": "quantitative", "scale": {"domain": [1, 40], "nice": false, "zero": false},
             "axis": {"orient": "top", "values": [3,5,7,9,11,13,15,17,19,21,23,25,27,29,31,33,35,37,39], "grid": true, "gridColor": "#ececec", "labels": false, "ticks": false, "domain": false, "title": "Amplification Plot", "titleFontSize": 9, "titleFontWeight": "normal", "titleColor": "#555", "titlePadding": 5, "titleX": 205, "titleAlign": "center"}},
       "y": {"field": "v", "type": "quantitative", "scale": {"type": "log", "domain": [0.000001, 10], "nice": false},
             "axis": {"orient": "right", "values": [2e-6,3e-6,4e-6,5e-6,6e-6,7e-6,8e-6,9e-6,2e-5,3e-5,4e-5,5e-5,6e-5,7e-5,8e-5,9e-5,2e-4,3e-4,4e-4,5e-4,6e-4,7e-4,8e-4,9e-4,0.002,0.003,0.004,0.005,0.006,0.007,0.008,0.009,0.02,0.03,0.04,0.05,0.06,0.07,0.08,0.09,0.2,0.3,0.4,0.5,0.6,0.7,0.8,0.9,2,3,4,5,6,7,8,9], "grid": true, "gridColor": "#ececec", "labels": false, "ticks": false, "domain": false, "title": null}},
       "detail": {"field": "s"}}},
    {"data": {"name": "b"}, "mark": {"type": "line", "strokeWidth": 1.6, "opacity": 0.88},
     "encoding": {
       "x": {"field": "c", "type": "quantitative", "scale": {"domain": [1, 40], "nice": false, "zero": false},
             "axis": {"orient": "bottom", "values": [2,4,6,8,10,12,14,16,18,20,22,24,26,28,30,32,34,36,38], "grid": true, "gridColor": "#dadada", "labelFontSize": 6, "labelColor": "#666", "labelPadding": 1, "tickSize": 3, "tickColor": "#999", "domainColor": "#aaa", "domainWidth": 2, "labelOverlap": false, "title": "Cycle", "titleFontSize": 10, "titleFontWeight": "normal", "titleColor": "#444", "titlePadding": 2}},
       "y": {"field": "v", "type": "quantitative", "scale": {"type": "log", "domain": [0.000001, 10], "nice": false},
             "axis": {"orient": "left", "values": [0.000001,0.00001,0.0001,0.001,0.01,0.1,1,10], "format": ".6~f", "grid": true, "gridColor": "#dadada", "labelFontSize": 8, "labelColor": "#666", "labelPadding": 5, "tickSize": 3, "tickColor": "#999", "domainColor": "#bbb", "domainWidth": 1.5, "title": "ΔRn", "titleFontSize": 9, "titleFontWeight": "bold", "titleColor": "#555", "titlePadding": 14}},
       "color": {"field": "g", "type": "nominal", "scale": {"domain": ["red","green","cyan","purple","violet","magenta"], "range": ["#e4604e","#8ed860","#40c8dc","#a05ae6","#c48ef0","#d455b8"]}, "legend": null},
       "detail": {"field": "s"}}},
    {"data": {"values": [{"t": 0.041}]}, "mark": {"type": "rule", "color": "#a7c7f0", "strokeWidth": 2},
     "encoding": {"y": {"field": "t", "type": "quantitative", "scale": {"type": "log", "domain": [0.000001, 10], "nice": false}, "axis": null}}},
    {"data": {"values": [{"c": 1.15, "t": 0.041, "label": "0.040587"}]}, "mark": {"type": "text", "align": "left", "baseline": "middle", "fontSize": 10, "fontWeight": "bold", "color": "#e23b3b"},
     "encoding": {"x": {"field": "c", "type": "quantitative", "scale": {"domain": [1, 40], "nice": false, "zero": false}, "axis": null},
                  "y": {"field": "t", "type": "quantitative", "scale": {"type": "log", "domain": [0.000001, 10], "nice": false}, "axis": null},
                  "text": {"field": "label"}}},
    {"data": {"values": [{"c": -3, "v": 5.35, "label": "b"}]}, "mark": {"type": "text", "align": "left", "baseline": "alphabetic", "fontSize": 36, "color": "#111"},
     "encoding": {"x": {"field": "c", "type": "quantitative", "scale": {"domain": [1, 40], "nice": false, "zero": false}, "axis": null},
                  "y": {"field": "v", "type": "quantitative", "scale": {"type": "log", "domain": [0.000001, 10], "nice": false}, "axis": null},
                  "text": {"field": "label"}}}
  ]
}
]
}
